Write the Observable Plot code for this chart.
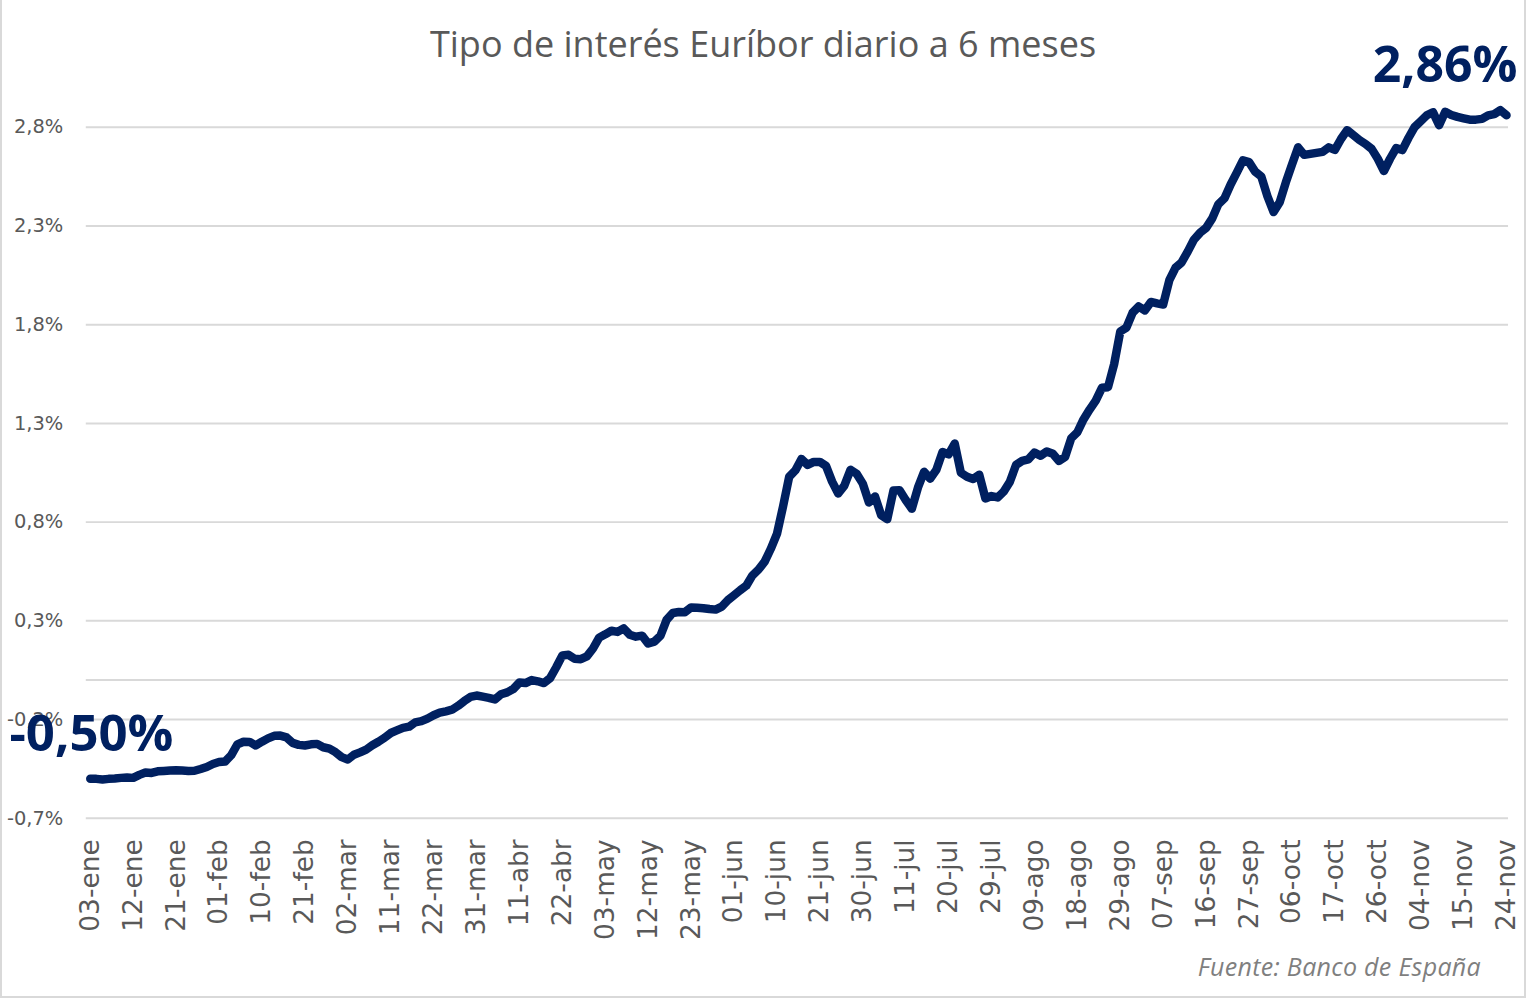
<!DOCTYPE html>
<html>
<head>
<meta charset="utf-8">
<script src="https://cdn.jsdelivr.net/npm/d3@7"></script>
<script src="https://cdn.jsdelivr.net/npm/@observablehq/plot@0.6"></script>
<style>
  html, body { margin: 0; padding: 0; background: #fff; }
  #frame { position: relative; width: 1526px; height: 998px; box-sizing: border-box; border: 2px solid #d9d9d9; border-top: none; overflow: hidden; background: #fff; }
  #title { position: absolute; left: 0; right: 0; top: 24px; text-align: center; font-family: "Open Sans", sans-serif; font-size: 36px; line-height: 40px; color: #595959; z-index: 2; }
  #source { position: absolute; right: 43px; top: 949px; font-family: "Open Sans", sans-serif; font-style: italic; font-size: 25px; color: #7f7f7f; z-index: 2; letter-spacing: 0.3px; }
  #chart { position: absolute; left: -2px; top: 0; }
</style>
</head>
<body>
<div id="frame">
  <div id="title">Tipo de interés Euríbor diario a 6 meses</div>
  <div id="chart"></div>
  <div id="source">Fuente: Banco de España</div>
</div>
<script>
// Category tick labels (one every 7 business days)
const tickLabels = ["03-ene","12-ene","21-ene","01-feb","10-feb","21-feb","02-mar","11-mar","22-mar","31-mar","11-abr","22-abr","03-may","12-may","23-may","01-jun","10-jun","21-jun","30-jun","11-jul","20-jul","29-jul","09-ago","18-ago","29-ago","07-sep","16-sep","27-sep","06-oct","17-oct","26-oct","04-nov","15-nov","24-nov"];

// Daily rate (%), one value per business day
const rates = [
  -0.500,-0.500,-0.503,-0.500,-0.498,-0.495,-0.493,
  -0.495,-0.480,-0.468,-0.470,-0.462,-0.460,-0.458,
  -0.457,-0.458,-0.460,-0.459,-0.450,-0.440,-0.425,
  -0.415,-0.412,-0.380,-0.325,-0.312,-0.313,-0.331,
  -0.312,-0.295,-0.282,-0.281,-0.290,-0.318,-0.328,
  -0.331,-0.325,-0.323,-0.340,-0.347,-0.365,-0.390,
  -0.402,-0.378,-0.366,-0.352,-0.330,-0.312,-0.292,
  -0.268,-0.255,-0.242,-0.236,-0.214,-0.208,-0.195,
  -0.178,-0.165,-0.158,-0.150,-0.130,-0.106,-0.085,
  -0.078,-0.084,-0.090,-0.098,-0.072,-0.062,-0.045,
  -0.012,-0.015,0.000,-0.006,-0.015,0.010,0.065,
  0.125,0.128,0.108,0.106,0.120,0.160,0.215,
  0.232,0.250,0.244,0.262,0.230,0.220,0.225,
  0.185,0.195,0.225,0.305,0.340,0.345,0.344,
  0.368,0.366,0.364,0.360,0.357,0.372,0.405,
  0.430,0.455,0.478,0.530,0.560,0.600,0.665,
  0.740,0.880,1.030,1.062,1.120,1.090,1.105,
  1.105,1.085,1.005,0.945,0.985,1.065,1.045,
  0.995,0.900,0.930,0.835,0.815,0.960,0.962,
  0.912,0.868,0.975,1.055,1.020,1.065,1.155,
  1.143,1.198,1.050,1.030,1.018,1.040,0.920,
  0.932,0.925,0.955,1.005,1.090,1.110,1.118,
  1.152,1.136,1.158,1.146,1.110,1.130,1.225,
  1.255,1.320,1.370,1.415,1.480,1.483,1.600,
  1.765,1.785,1.860,1.892,1.872,1.915,1.908,
  1.902,2.025,2.088,2.115,2.170,2.230,2.265,
  2.290,2.338,2.410,2.440,2.510,2.570,2.632,
  2.623,2.575,2.550,2.450,2.370,2.420,2.520,
  2.610,2.698,2.660,2.665,2.670,2.675,2.698,
  2.685,2.740,2.785,2.760,2.735,2.715,2.690,
  2.640,2.578,2.640,2.694,2.684,2.745,2.800,
  2.830,2.860,2.876,2.810,2.878,2.862,2.852,
  2.845,2.838,2.838,2.842,2.860,2.866,2.886,
  2.860
];

// Y axis tick values (%)
const yTicks = [-0.7, -0.2, 0.3, 0.8, 1.3, 1.8, 2.3, 2.8];
// Annotation labels
const startLabel = "-0,50%";
const endLabel = "2,86%";

const data = rates.map((v, i) => ({i, v}));
const xTicks = tickLabels.map((_, k) => k * 7);
const first = data[0];
const last = data[data.length - 1];
const navy = "#002060";

const chart = Plot.plot({
  width: 1528,
  height: 945,
  marginLeft: 90,
  marginRight: 18,
  marginTop: 127,
  marginBottom: 125,
  style: { background: "transparent", overflow: "visible", fontFamily: "DejaVu Sans" },
  x: { domain: [0, rates.length - 1], axis: null },
  y: { domain: [-0.7, 2.8], axis: null },
  marks: [
    Plot.ruleY(yTicks, { stroke: "#d9d9d9", strokeWidth: 2, insetLeft: -4, insetRight: -2 }),
    Plot.ruleY([0], { stroke: "#d9d9d9", strokeWidth: 2, insetLeft: -4, insetRight: -2 }),
    Plot.axisY(yTicks, {
      tickSize: 0, tickPadding: 27, label: null, fontSize: 19.5, fill: "#595959",
      tickFormat: d => d.toFixed(1).replace(".", ",") + "%"
    }),
    Plot.axisX(xTicks, {
      tickSize: 0, tickPadding: 21, tickRotate: -90, label: null, fontSize: 26.5, fill: "#595959",
      tickFormat: i => tickLabels[i / 7]
    }),
    Plot.line(data, { x: "i", y: "v", stroke: navy, strokeWidth: 8.5, strokeLinejoin: "round", strokeLinecap: "round" }),
    Plot.text([first], { x: "i", y: "v", text: () => startLabel, textAnchor: "start", dx: -81, dy: -44, fontSize: 51, fontWeight: "bold", fontFamily: "Open Sans", fill: navy }),
    Plot.text([last], { x: "i", y: "v", text: () => endLabel, textAnchor: "end", dx: 11, dy: -49, fontSize: 50, fontWeight: "bold", fontFamily: "Open Sans", fill: navy })
  ]
});
document.getElementById("chart").appendChild(chart);
</script>
</body>
</html>
